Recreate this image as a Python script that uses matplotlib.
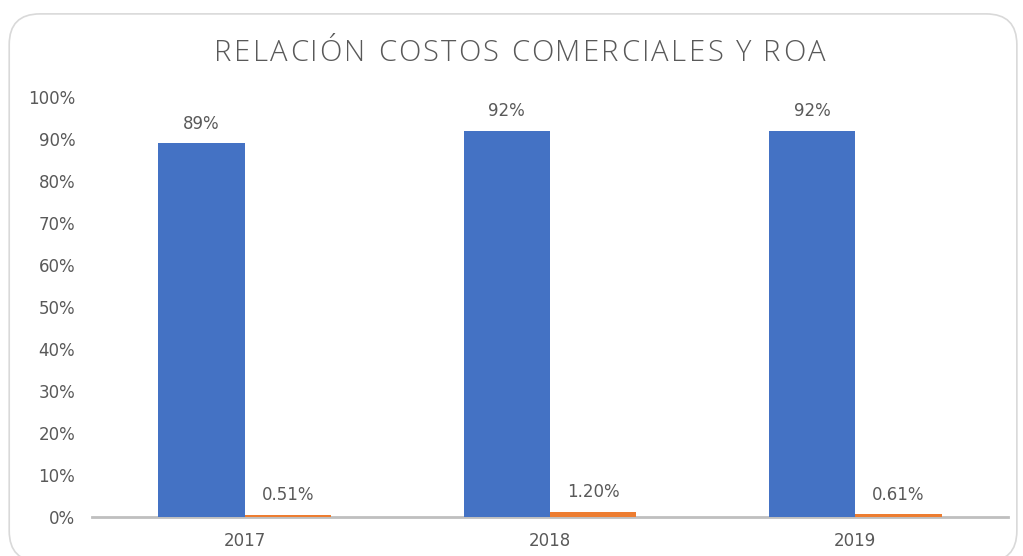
import matplotlib.pyplot as plt
import numpy as np
from matplotlib.patches import FancyBboxPatch

years = ['2017', '2018', '2019']
costos = [89, 92, 92]
roa = [0.51, 1.20, 0.61]
costos_labels = ['89%', '92%', '92%']
roa_labels = ['0.51%', '1.20%', '0.61%']

blue = '#4472C4'
orange = '#ED7D31'
txt = '#595959'

fig = plt.figure(figsize=(10.23, 5.56), dpi=100)
ax = fig.add_axes([0.0899, 0.0701, 0.8954, 0.7554])

# chart frame
frame = FancyBboxPatch((0.009, -0.01), 0.985, 0.985, boxstyle='round,pad=0,rounding_size=0.03',
                       transform=fig.transFigure, fill=False, edgecolor='#d9d9d9', lw=1.2,
                       mutation_aspect=1023 / 556, clip_on=False)
fig.patches.append(frame)

x = np.arange(len(years))
w = 0.283
b1 = ax.bar(x - w / 2, costos, w, color=blue, zorder=3)
b2 = ax.bar(x + w / 2, roa, w, color=orange, zorder=3)

for r, lab in zip(b1, costos_labels):
    ax.text(r.get_x() + r.get_width() / 2, r.get_height() + 2.5, lab, ha='center', va='bottom',
            fontsize=12, color=txt)
for r, lab in zip(b2, roa_labels):
    ax.text(r.get_x() + r.get_width() / 2, r.get_height() + 2.5, lab, ha='center', va='bottom',
            fontsize=12, color=txt)

ax.set_xlim(-0.5, 2.5)
ax.set_ylim(0, 100)
ax.set_yticks(range(0, 101, 10))
ax.set_yticklabels([f'{v}%' for v in range(0, 101, 10)])
ax.set_xticks(x)
ax.set_xticklabels(years)
ax.tick_params(length=0, labelsize=12, labelcolor=txt)
ax.tick_params(axis='y', pad=12)
ax.tick_params(axis='x', pad=11)
for s in ['top', 'right', 'left']:
    ax.spines[s].set_visible(False)
ax.spines['bottom'].set_color('#bfbfbf')
ax.spines['bottom'].set_linewidth(2)

# title with wide letter spacing
title = 'RELACIÓN COSTOS COMERCIALES Y ROA'
tkw = dict(fontsize=21, color=txt, family='Open Sans', fontweight='light', va='center', ha='left')
renderer = fig.canvas.get_renderer()


def text_width(s):
    t = fig.text(0, 0, s + '|', **tkw)
    bar = fig.text(0, 0, '|', **tkw)
    wpx = t.get_window_extent(renderer).width - bar.get_window_extent(renderer).width
    t.remove()
    bar.remove()
    return wpx


tracking = 2.4
total = text_width(title) + tracking * (len(title) - 1)
x0 = 0.5078 * fig.bbox.width - total / 2
for i, ch in enumerate(title):
    if ch == ' ':
        continue
    px = x0 + text_width(title[:i]) + tracking * i
    fig.text(px / fig.bbox.width, 0.905, ch, **tkw)

fig.savefig('out.png', dpi=100)
